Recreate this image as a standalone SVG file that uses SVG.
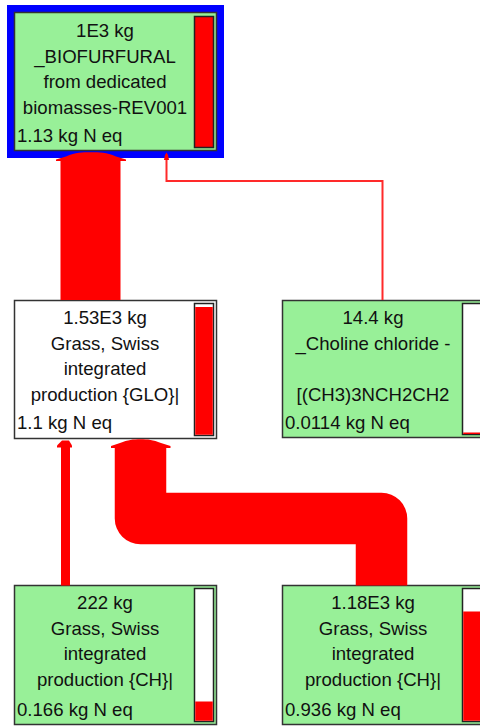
<svg xmlns="http://www.w3.org/2000/svg" width="480" height="726" viewBox="0 0 480 726">
<style>
.box{fill:#98f098;stroke:#333;stroke-width:1.5}
.wbox{fill:#ffffff;stroke:#333;stroke-width:1.5}
.bar{fill:#ffffff;stroke:#222;stroke-width:1.5}
.lvl{fill:#ff0000}
.t{font-family:"Liberation Sans",Arial,sans-serif;font-size:18.6px;fill:#111;text-anchor:middle}
.v{font-family:"Liberation Sans",Arial,sans-serif;font-size:18.6px;fill:#111}
.flow{fill:#ff0000}
</style>
<rect width="480" height="726" fill="#ffffff"/>
<g id="n-biofurfural">
<rect x="7" y="5" width="217" height="153" fill="#0000ff"/>
<rect class="box" x="14.5" y="12.5" width="202" height="138"/>
<rect x="194.5" y="16.5" width="19" height="131" fill="#ff0000" stroke="#222" stroke-width="1.5"/>
<text class="t" x="105" y="37">1E3 kg</text>
<text class="t" x="105" y="62.5">_BIOFURFURAL</text>
<text class="t" x="105" y="88">from dedicated</text>
<text class="t" x="105" y="113.5">biomasses-REV001</text>
<text class="v" x="17" y="142">1.13 kg N eq</text>
</g>
<g id="n-grass-glo">
<rect class="wbox" x="14.5" y="300.5" width="202" height="138"/>
<rect class="bar" x="194.5" y="303.5" width="19" height="132"/>
<rect class="lvl" x="195.25" y="307" width="17.5" height="127.75"/>
<text class="t" x="105" y="324">1.53E3 kg</text>
<text class="t" x="105" y="349.5">Grass, Swiss</text>
<text class="t" x="105" y="375">integrated</text>
<text class="t" x="105" y="400.5">production {GLO}|</text>
<text class="v" x="17" y="428.5">1.1 kg N eq</text>
</g>
<g id="n-choline">
<rect class="box" x="282.5" y="300.5" width="202" height="137"/>
<rect class="bar" x="462.5" y="303.5" width="19" height="131"/>
<rect class="lvl" x="463.25" y="432.5" width="17.5" height="1.5"/>
<text class="t" x="373" y="324">14.4 kg</text>
<text class="t" x="373" y="349.5">_Choline chloride -</text>
<text class="t" x="373" y="400.5">[(CH3)3NCH2CH2</text>
<text class="v" x="285" y="428.5">0.0114 kg N eq</text>
</g>
<g id="n-grass-ch-1">
<rect class="box" x="14.5" y="585.5" width="202" height="139"/>
<rect class="bar" x="194.5" y="588.5" width="19" height="133"/>
<rect class="lvl" x="195.25" y="701.5" width="17.5" height="19.25"/>
<text class="t" x="105" y="609">222 kg</text>
<text class="t" x="105" y="634.5">Grass, Swiss</text>
<text class="t" x="105" y="660">integrated</text>
<text class="t" x="105" y="685.5">production {CH}|</text>
<text class="v" x="17" y="716">0.166 kg N eq</text>
</g>
<g id="n-grass-ch-2">
<rect class="box" x="282.5" y="585.5" width="202" height="139"/>
<rect class="bar" x="462.5" y="588.5" width="19" height="133"/>
<rect class="lvl" x="463.25" y="611.5" width="17.5" height="109.25"/>
<text class="t" x="373" y="609">1.18E3 kg</text>
<text class="t" x="373" y="634.5">Grass, Swiss</text>
<text class="t" x="373" y="660">integrated</text>
<text class="t" x="373" y="685.5">production {CH}|</text>
<text class="v" x="285" y="716">0.936 kg N eq</text>
</g>
<g id="connectors">
<rect class="flow" x="60.5" y="160" width="60" height="140"/>
<path class="flow" d="M56,161 L56,159.5 L66,156.5 C76,152.5 82,152.3 91,152.3 C100,152.3 106,152.5 116,156.5 L126,159.5 L126,161 Z"/>
<path d="M382.5,300 V181 H166.5 V159" fill="none" stroke="#ff2a2a" stroke-width="2"/>
<path class="flow" d="M164,160 L165,155 L166.5,152.5 L168,155 L169,160 Z"/>
<rect class="flow" x="61" y="446" width="9" height="139.5"/>
<path class="flow" d="M57,447.5 L57,445.5 L62,440.5 L69,440.5 L72,445.5 L72,447.5 Z"/>
<polyline points="381.5,585.5 381.5,518.5 140.5,518.5 140.5,446" fill="none" stroke="#ff0000" stroke-width="51.5" stroke-linejoin="round"/>
<path class="flow" d="M111,448 L111,446 L120,443 C128,439.7 133,439.2 140.5,439.2 C148,439.2 153,439.7 161,443 L170.5,446 L170.5,448 Z"/>
</g>
</svg>
